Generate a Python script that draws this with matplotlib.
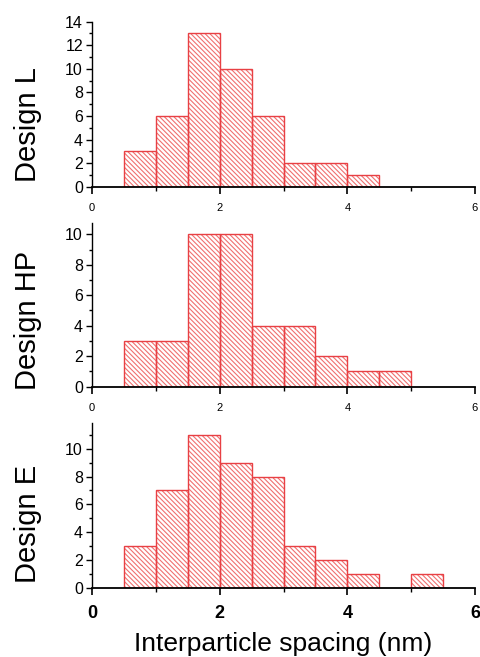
import matplotlib
matplotlib.use("Agg")
import matplotlib.pyplot as plt
from matplotlib.ticker import MultipleLocator

plt.rcParams['font.family'] = ['Liberation Sans', 'DejaVu Sans']
plt.rcParams['hatch.linewidth'] = 0.8

# Histogram data: bin left edges (nm) and counts
bin_width = 0.5
L_edges = [0.5, 1.0, 1.5, 2.0, 2.5, 3.0, 3.5, 4.0]
L_counts = [3, 6, 13, 10, 6, 2, 2, 1]
HP_edges = [0.5, 1.0, 1.5, 2.0, 2.5, 3.0, 3.5, 4.0, 4.5]
HP_counts = [3, 3, 10, 10, 4, 4, 2, 1, 1]
E_edges = [0.5, 1.0, 1.5, 2.0, 2.5, 3.0, 3.5, 4.0, 5.0]
E_counts = [3, 7, 11, 9, 8, 3, 2, 1, 1]

labels = ["Design L", "Design HP", "Design E"]
xlabel = "Interparticle spacing (nm)"
x_ticks = [0, 2, 4, 6]

W, H = 480, 657
fig = plt.figure(figsize=(W / 100, H / 100), dpi=100)

panels = [
    (L_edges, L_counts, 186.7, 21.7, 14.0, 0.377),
    (HP_edges, HP_counts, 386.7, 222.7, 10.76, 0.407),
    (E_edges, E_counts, 587.7, 423.3, 11.83, 0.39),
]
left_px, right_px = 92, 475
hatch_red = '#f07070'
edge_red = '#e84044'
hatch = '\\' * 7

for i, (edges, counts, bpx, tpx, ymax, ly) in enumerate(panels):
    ax = fig.add_axes([left_px / W, 1 - bpx / H, (right_px - left_px) / W, (bpx - tpx) / H])
    ax.bar(edges, counts, width=bin_width, align='edge', facecolor='white',
           edgecolor=hatch_red, hatch=hatch, linewidth=0, zorder=2)
    ax.bar(edges, counts, width=bin_width, align='edge', facecolor='none',
           edgecolor=edge_red, linewidth=1.0, zorder=2.5)
    ax.set_xlim(0, 6)
    ax.set_ylim(0, ymax)
    for s in ['top', 'right']:
        ax.spines[s].set_visible(False)
    ax.spines['left'].set_linewidth(1.0)
    ax.spines['bottom'].set_linewidth(1.3)
    ax.spines['bottom'].set_zorder(3)
    ax.set_xticks(x_ticks)
    ax.xaxis.set_minor_locator(MultipleLocator(1))
    ax.yaxis.set_major_locator(MultipleLocator(2))
    ax.yaxis.set_minor_locator(MultipleLocator(1))
    ax.tick_params(axis='y', which='major', direction='out', length=4.5, width=1.0,
                   labelsize=11.5, pad=2)
    ax.tick_params(axis='y', which='minor', direction='out', length=2.5, width=1.0)
    ax.tick_params(axis='x', which='major', direction='out', length=5, width=1.2)
    ax.tick_params(axis='x', which='minor', direction='out', length=3, width=1.0)
    if i < 2:
        ax.tick_params(axis='x', which='major', labelsize=8, pad=6.5)
    else:
        ax.tick_params(axis='x', which='major', labelsize=13, pad=7.5)
        for t in ax.get_xticklabels():
            t.set_fontweight('bold')
        ax.set_xlabel(xlabel, fontsize=19, labelpad=7)
    ax.set_ylabel(labels[i], fontsize=21, va='baseline', rotation_mode='anchor')
    ax.yaxis.set_label_coords((35.7 - left_px) / (right_px - left_px), ly)

fig.savefig('out.png', dpi=100)
